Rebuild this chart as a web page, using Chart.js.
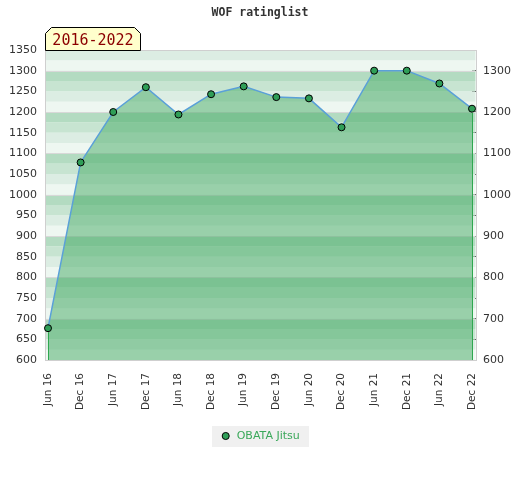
<!DOCTYPE html>
<html>
<head>
<meta charset="utf-8">
<script src="https://cdn.jsdelivr.net/npm/chart.js@4.4.0/dist/chart.umd.min.js"></script>
<style>
html, body { margin: 0; padding: 0; background: #fff; }
#wrap { width: 520px; height: 480px; }
</style>
</head>
<body>
<div id="wrap"><canvas id="ratingChart" width="520" height="480"></canvas></div>
<script>
// Datos del gráfico
const periodos = ['Jun 16', 'Dec 16', 'Jun 17', 'Dec 17', 'Jun 18', 'Dec 18', 'Jun 19',
                  'Dec 19', 'Jun 20', 'Dec 20', 'Jun 21', 'Dec 21', 'Jun 22', 'Dec 22'];
const rating = [677, 1078, 1200, 1260, 1194, 1243, 1262, 1236, 1233, 1163, 1300, 1300, 1269, 1208];
const jugador = 'OBATA Jitsu';
const rangoAnios = '2016-2022';
const tituloGrafico = 'WOF ratinglist';
const escalaMin = 600;
const escalaMax = 1350;
const escalaDerechaMax = 1300;

// Colores de las bandas del fondo (según valor % 100)
const coloresBanda = ['#eef7f1', '#dcede3', '#c7e4d1', '#b3dbc1'];
const colorPunto = '#2f9e57';
const colorTexto = '#333';

// Plugin: fondo a rayas, líneas cada 100 y marco
const fondoBandas = {
    id: 'fondoBandas',
    beforeDatasetsDraw(chart) {
        const { ctx, chartArea: a, scales: { y } } = chart;
        const left = a.left - 3;
        const right = a.right + 3.5;
        ctx.save();
        for (let v = escalaMin; v < escalaMax; v += 25) {
            const top = y.getPixelForValue(v + 25);
            const bottom = y.getPixelForValue(v);
            ctx.fillStyle = coloresBanda[(v % 100) / 25];
            ctx.fillRect(left, top, right - left, bottom - top);
        }
        ctx.strokeStyle = '#d8d8d8';
        ctx.lineWidth = 1;
        for (let v = escalaMin + 100; v < escalaMax; v += 100) {
            const py = Math.round(y.getPixelForValue(v)) + 0.5;
            ctx.beginPath();
            ctx.moveTo(left, py);
            ctx.lineTo(right, py);
            ctx.stroke();
        }
        ctx.strokeStyle = '#cfcfcf';
        ctx.strokeRect(Math.round(left) + 0.5, Math.round(a.top) + 0.5,
                       Math.round(right - left), Math.round(a.bottom - a.top));
        ctx.restore();
    },
    afterDatasetsDraw(chart) {
        // líneas verticales del área en el primer y último punto
        const { ctx, chartArea: a } = chart;
        const pts = chart.getDatasetMeta(0).data;
        ctx.save();
        ctx.strokeStyle = '#2ea84f';
        ctx.lineWidth = 1;
        [pts[0], pts[pts.length - 1]].forEach(p => {
            ctx.beginPath();
            ctx.moveTo(Math.round(p.x) + 0.5, p.y + 4);
            ctx.lineTo(Math.round(p.x) + 0.5, a.bottom);
            ctx.stroke();
        });
        ctx.restore();
    },
    beforeDraw(chart) {
        // fondo gris de la leyenda
        const lg = chart.legend;
        if (!lg || !lg.legendHitBoxes.length) return;
        const hb = lg.legendHitBoxes[0];
        const { ctx } = chart;
        ctx.save();
        ctx.fillStyle = '#f0f0f0';
        ctx.fillRect(Math.round(hb.left - 8), Math.round(hb.top - 4.5), Math.round(hb.width + 17), 21);
        ctx.restore();
    },
    afterDraw(chart) {
        // etiqueta con el rango de años
        const { ctx, chartArea: a } = chart;
        const x0 = Math.round(a.left - 3) + 0.5;
        const x1 = x0 + 95;
        const yb = Math.round(a.top) + 0.5;
        const yt = yb - 23;
        ctx.save();
        ctx.beginPath();
        ctx.moveTo(x0, yb);
        ctx.lineTo(x0, yt + 6);
        ctx.lineTo(x0 + 6, yt);
        ctx.lineTo(x1 - 6, yt);
        ctx.lineTo(x1, yt + 6);
        ctx.lineTo(x1, yb);
        ctx.closePath();
        ctx.fillStyle = '#ffffcc';
        ctx.fill();
        ctx.strokeStyle = '#000';
        ctx.lineWidth = 1;
        ctx.stroke();
        ctx.fillStyle = '#8b0000';
        ctx.font = '15px "DejaVu Sans Mono"';
        ctx.textAlign = 'center';
        ctx.textBaseline = 'alphabetic';
        ctx.fillText(rangoAnios, (x0 + x1) / 2, yb - 6);
        ctx.restore();
    }
};

const ratingChart = new Chart(document.getElementById('ratingChart'), {
    type: 'line',
    data: {
        labels: periodos,
        datasets: [{
            label: jugador,
            data: rating,
            yAxisID: 'y',
            borderColor: '#5aa0d8',
            borderWidth: 1.5,
            backgroundColor: 'rgba(68, 170, 100, 0.5)',
            fill: 'start',
            tension: 0,
            pointRadius: 3.5,
            pointHoverRadius: 3.5,
            pointBackgroundColor: colorPunto,
            pointBorderColor: '#000',
            pointBorderWidth: 1,
            pointStyle: 'circle'
        }]
    },
    options: {
        responsive: false,
        animation: false,
        layout: { padding: { bottom: 28.5 } },
        scales: {
            x: {
                grid: { display: false, drawTicks: false },
                border: { display: false },
                ticks: {
                    minRotation: 90,
                    maxRotation: 90,
                    padding: 13,
                    color: colorTexto,
                    font: { family: 'DejaVu Sans', size: 10.5 }
                },
                afterFit(s) { s.height = 60.5; }
            },
            y: {
                position: 'left',
                min: escalaMin,
                max: escalaMax,
                grid: { display: false, drawTicks: false },
                border: { display: false },
                ticks: {
                    stepSize: 50,
                    padding: 11,
                    color: colorTexto,
                    font: { family: 'DejaVu Sans', size: 11 },
                    callback: v => String(v)
                },
                afterFit(s) { s.width = 48; }
            },
            y2: {
                position: 'right',
                min: escalaMin,
                max: escalaMax,
                grid: {
                    display: true,
                    drawOnChartArea: false,
                    drawTicks: true,
                    tickLength: 4,
                    color: c => (c.tick && c.tick.value > escalaDerechaMax) ? 'rgba(0,0,0,0)' : '#000'
                },
                border: { display: false },
                ticks: {
                    stepSize: 50,
                    padding: 7,
                    color: colorTexto,
                    font: { family: 'DejaVu Sans', size: 11 },
                    callback: v => (v % 100 === 0 && v <= escalaDerechaMax) ? String(v) : ''
                },
                afterFit(s) { s.width = 48; }
            }
        },
        plugins: {
            title: {
                display: true,
                text: tituloGrafico,
                color: colorTexto,
                font: { family: 'DejaVu Sans Mono', size: 11.5, weight: 'bold' },
                padding: { top: 6, bottom: 30.2 }
            },
            legend: {
                position: 'bottom',
                labels: {
                    usePointStyle: true,
                    boxWidth: 11,
                    boxHeight: 5,
                    padding: 10,
                    color: '#3aa85a',
                    font: { family: 'DejaVu Sans', size: 11 },
                    generateLabels(chart) {
                        const items = Chart.defaults.plugins.legend.labels.generateLabels(chart);
                        items.forEach(it => {
                            it.fillStyle = colorPunto;
                            it.strokeStyle = '#000';
                            it.lineWidth = 1;
                        });
                        return items;
                    }
                }
            },
            tooltip: { enabled: false }
        }
    },
    plugins: [fondoBandas]
});
</script>
</body>
</html>
